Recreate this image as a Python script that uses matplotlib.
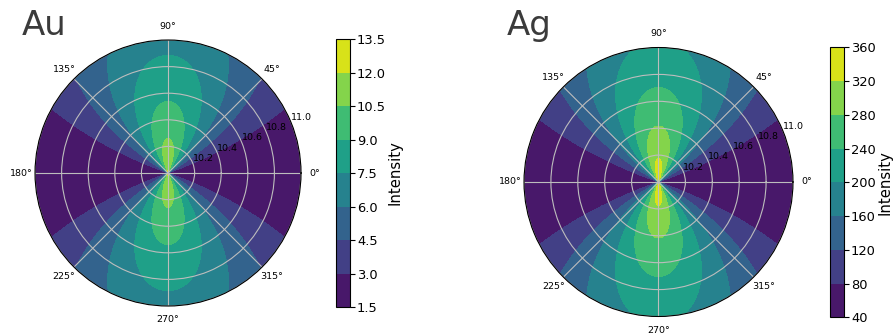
import numpy as np
import matplotlib
matplotlib.use("Agg")
import matplotlib.pyplot as plt

# Sampling of the emission field over distance r and angle theta
r_min, r_max = 10.0, 11.0
n_theta, n_r = 721, 201

# Dipole-like emission per metal: I = base + peak * exp(-decay * (r - r_min)) * sin^2(theta)
metals = ["Au", "Ag"]
base = [1.75, 45.0]
peak = [10.4, 308.0]
decay = [0.67, 0.65]

levels_au = [1.5, 3.0, 4.5, 6.0, 7.5, 9.0, 10.5, 12.0, 13.5]
levels_ag = [40, 80, 120, 160, 200, 240, 280, 320, 360]
levels = [levels_au, levels_ag]
radial_ticks = [10.2, 10.4, 10.6, 10.8, 11.0]

theta = np.linspace(0, 2 * np.pi, n_theta)
r = np.linspace(r_min, r_max, n_r)
TH, R = np.meshgrid(theta, r)

fig = plt.figure(figsize=(8.93, 3.34), dpi=100)

# axes boxes in figure fractions: polar plot and its colorbar
polar_boxes = [[0.0392, 0.0838, 0.2979, 0.7964],
               [0.5868, 0.0524, 0.3012, 0.8054]]
cbar_boxes = [[0.3763, 0.0808, 0.0157, 0.8024],
              [0.9295, 0.0500, 0.0157, 0.8084]]
title_pos = [(0.024, 0.895), (0.568, 0.895)]

for i, name in enumerate(metals):
    field = base[i] + peak[i] * np.exp(-decay[i] * (R - r_min)) * np.sin(TH) ** 2

    ax = fig.add_axes(polar_boxes[i], projection="polar")
    cs = ax.contourf(TH, R, field, levels=levels[i], cmap="viridis")
    ax.set_ylim(r_min, r_max)
    ax.set_yticks(radial_ticks)
    ax.set_yticklabels([f"{t:.1f}" for t in radial_ticks])
    ax.tick_params(axis="y", labelsize=6.8)
    ax.tick_params(axis="x", labelsize=6.8, pad=-0.5)
    ax.grid(True, color="#bdbdbd", linewidth=0.8)
    ax.spines["polar"].set_linewidth(0.8)

    cax = fig.add_axes(cbar_boxes[i])
    cb = fig.colorbar(cs, cax=cax, ticks=levels[i])
    cb.outline.set_linewidth(0.8)
    cax.tick_params(labelsize=9.4, length=3.5, width=0.8, pad=1.5)
    cb.set_label("Intensity", fontsize=10.7, labelpad=1)

    fig.text(title_pos[i][0], title_pos[i][1], name, fontsize=24.5,
             color="#3b3b3b", ha="left", va="baseline")

fig.savefig("out.png", dpi=100)
